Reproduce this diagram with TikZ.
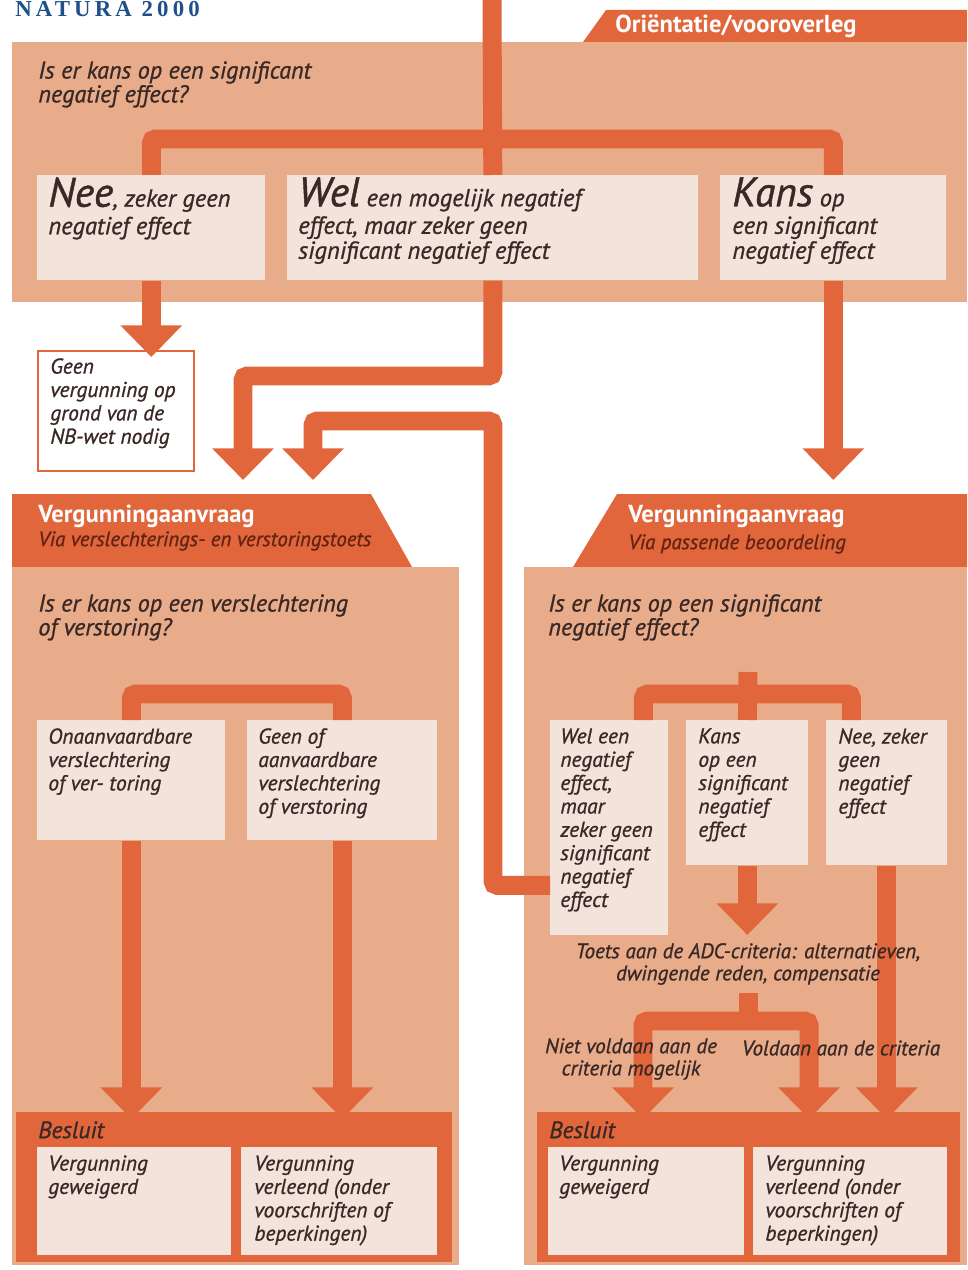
\documentclass[tikz,border=0pt]{standalone}
\usepackage{fontspec}
\setmainfont{PT Sans}
\newfontfamily\flowfont[FakeBold=1]{PT Sans}
\newfontfamily\natfont[LetterSpace=18]{Liberation Serif}
\usetikzlibrary{arrows.meta}

\definecolor{flowor}{RGB}{226,102,60}
\definecolor{panelsalm}{RGB}{233,172,138}
\definecolor{boxcream}{RGB}{243,228,219}
\definecolor{inkbrown}{RGB}{58,40,38}
\definecolor{subbrown}{RGB}{100,36,20}
\definecolor{natblue}{RGB}{30,80,140}

\tikzset{
  panel/.style={fill=panelsalm, draw=none},
  headtab/.style={fill=flowor, draw=none},
  stepbox/.style={fill=boxcream, draw=none, anchor=north west, inner sep=0pt},
  boxtext/.style={anchor=north west, inner sep=0pt, align=left, text=inkbrown,
    font=\flowfont\itshape\fontsize{12.2}{13.3}\selectfont},
  bigtext/.style={boxtext, font=\flowfont\itshape\fontsize{14}{14.2}\selectfont},
  qtext/.style={boxtext, font=\flowfont\itshape\fontsize{13.8}{13.6}\selectfont},
  headtext/.style={anchor=north west, inner sep=0pt, text=white,
    font=\bfseries\fontsize{14}{14}\selectfont},
  subtext/.style={anchor=north west, inner sep=0pt, text=subbrown,
    font=\flowfont\itshape\fontsize{11.9}{12}\selectfont},
  smalltext/.style={inner sep=2pt, align=center, text=inkbrown,
    font=\flowfont\itshape\fontsize{12}{12.6}\selectfont},
  bar/.style={draw=flowor, line width=10.8pt, rounded corners=2.5pt},
  bararrow/.style={bar, -{Triangle[width=34pt,length=18pt]}},
}
\newcommand{\bigword}[1]{{\fontsize{23.5}{24}\selectfont #1}}

\begin{document}
\begin{tikzpicture}[x=0.02cm, y=-0.02cm]
\useasboundingbox (0,0) rectangle (967,1270);
\fill[white] (0,0) rectangle (967,1270);

% heading
\node[anchor=south west, inner sep=0pt, text=natblue,
  font=\natfont\bfseries\fontsize{13}{13}\selectfont] (natura) at (15,17) {NATURA 2000};

% panels and header tabs
\fill[panel] (12,42) rectangle (967,302);
\fill[headtab] (606,10) -- (967,10) -- (967,42) -- (583,42) -- cycle;
\fill[headtab] (12,494) -- (371,494) -- (412,567) -- (12,567) -- cycle;
\fill[panel] (12,567) rectangle (459,1265);
\fill[headtab] (617,494) -- (967,494) -- (967,567) -- (573,567) -- cycle;
\fill[panel] (524,567) rectangle (967,1265);

\node[inner sep=0pt, text=white, font=\bfseries\fontsize{14}{14}\selectfont] (orient) at (736,26) {Oriëntatie/vooroverleg};
\node[headtext] (aanvrL) at (38,505) {Vergunningaanvraag};
\node[subtext] (viaL) at (38,531) {Via verslechterings- en verstoringstoets};
\node[headtext] (aanvrR) at (628,505) {Vergunningaanvraag};
\node[subtext] (viaR) at (628,534) {Via passende beoordeling};

% boxes
\node[stepbox, minimum width=4.56cm, minimum height=2.1cm] (nee) at (37,175) {};
\node[stepbox, minimum width=8.22cm, minimum height=2.1cm] (wel) at (287,175) {};
\node[stepbox, minimum width=4.52cm, minimum height=2.1cm] (kans) at (720,175) {};
\node[stepbox, fill=white, draw=flowor, line width=1.2pt, minimum width=3.12cm, minimum height=2.4cm] (geen) at (37,350) {};

\node[stepbox, minimum width=3.76cm, minimum height=2.4cm] (onaan) at (37,720) {};
\node[stepbox, minimum width=3.8cm, minimum height=2.4cm] (geenof) at (247,720) {};
\node[stepbox, minimum width=2.36cm, minimum height=4.3cm] (welR) at (550,720) {};
\node[stepbox, minimum width=2.44cm, minimum height=2.9cm] (kansR) at (686,720) {};
\node[stepbox, minimum width=2.42cm, minimum height=2.9cm] (neeR) at (826,720) {};

\node[stepbox, fill=flowor, minimum width=8.72cm, minimum height=3cm] (besl1) at (16,1112) {};
\node[stepbox, fill=flowor, minimum width=8.46cm, minimum height=3cm] (besl2) at (537,1112) {};
\node[stepbox, minimum width=3.88cm, minimum height=2.16cm] (weig1) at (37,1147) {};
\node[stepbox, minimum width=3.92cm, minimum height=2.16cm] (verl1) at (241,1147) {};
\node[stepbox, minimum width=3.92cm, minimum height=2.16cm] (weig2) at (548,1147) {};
\node[stepbox, minimum width=3.88cm, minimum height=2.16cm] (verl2) at (753,1147) {};

% texts
\node[qtext] (q1) at (38,61) {Is er kans op een significant\\negatief effect?};
\node[bigtext] at ([shift={(11,2)}]nee.north west) {\bigword{Nee}, zeker geen\\[1.5pt]negatief effect};
\node[bigtext] at ([shift={(11,2)}]wel.north west) {\bigword{Wel} een mogelijk negatief\\[1.5pt]effect, maar zeker geen\\significant negatief effect};
\node[bigtext] at ([shift={(12,2)}]kans.north west) {\bigword{Kans} op\\[1.5pt]een significant\\negatief effect};
\node[boxtext] at ([shift={(13,8)}]geen.north west) {Geen\\vergunning op\\grond van de\\NB-wet nodig};

\node[qtext] (qL) at (38,594) {Is er kans op een verslechtering\\of verstoring?};
\node[qtext] (qR) at (548,594) {Is er kans op een significant\\negatief effect?};
\node[boxtext] at ([shift={(11,8)}]onaan.north west) {Onaanvaardbare\\verslechtering\\of ver- toring};
\node[boxtext] at ([shift={(11,8)}]geenof.north west) {Geen of\\aanvaardbare\\verslechtering\\of verstoring};
\node[boxtext] at ([shift={(10,8)}]welR.north west) {Wel een\\negatief\\effect,\\maar\\zeker geen\\significant\\negatief\\effect};
\node[boxtext] at ([shift={(12,8)}]kansR.north west) {Kans\\op een\\significant\\negatief\\effect};
\node[boxtext] at ([shift={(12,8)}]neeR.north west) {Nee, zeker\\geen\\negatief\\effect};

\node[boxtext, font=\flowfont\itshape\fontsize{13.5}{14}\selectfont] at (38,1121) {Besluit};
\node[boxtext, font=\flowfont\itshape\fontsize{13.5}{14}\selectfont] at (549,1121) {Besluit};
\node[boxtext] at ([shift={(11,8)}]weig1.north west) {Vergunning\\geweigerd};
\node[boxtext] at ([shift={(13,8)}]verl1.north west) {Vergunning\\verleend (onder\\voorschriften of\\beperkingen)};
\node[boxtext] at ([shift={(11,8)}]weig2.north west) {Vergunning\\geweigerd};
\node[boxtext] at ([shift={(12,8)}]verl2.north west) {Vergunning\\verleend (onder\\voorschriften of\\beperkingen)};

% connectors
\coordinate (entry) at (492,0);
\coordinate (fork1) at (492,139);
\coordinate (turnA) at (243,376);
\coordinate (tipA) at (243,480);
\coordinate (turnB) at (493,421);
\coordinate (tipB) at (313,480);
\coordinate (forkL) at (236,694);
\coordinate (entryR) at (748,672);
\coordinate (forkR) at (748,694);
\coordinate (forkD) at (748,1021);
\coordinate (adcOut) at (748,993);

\draw[bar] (entry) -- (wel.north);
\draw[bar] (nee.north) |- (fork1) -| (kans.north);
\draw[bararrow, shorten >=-4pt] (nee.south) -- (nee.south |- geen.north);
\draw[bararrow] (wel.south) |- (turnA) -- (tipA);
\draw[bararrow] (kans.south) -- (kans.south |- tipA);
\draw[bararrow] ([yshift=-1.15cm]welR.west) -| (turnB) -| (tipB);

\draw[bar] (onaan.north) |- (forkL) -| (geenof.north);
\draw[bararrow, shorten >=-4pt] (onaan.south) -- (onaan.south |- besl1.north);
\draw[bararrow, shorten >=-4pt] (geenof.south) -- (geenof.south |- besl1.north);

\draw[bar] (entryR) -- (kansR.north);
\draw[bar] ([xshift=0.68cm]welR.north) |- (forkR) -| ([xshift=-0.71cm]neeR.north);
\draw[bararrow] (kansR.south) -- (kansR.south |- 0,935);
\draw[bar] (adcOut) -- (forkD);
\draw[bararrow, shorten >=-4pt] (forkD) -| (643,0 |- besl2.north);
\draw[bararrow, shorten >=-4pt] (forkD) -| (809,0 |- besl2.north);
\draw[bararrow, shorten >=-4pt] (neeR.south) -- (neeR.south |- besl2.north);

\node[smalltext] (adc) at (748,964) {Toets aan de ADC-criteria: alternatieven,\\dwingende reden, compensatie};
\node[smalltext] (niet) at (631,1059) {Niet voldaan aan de\\criteria mogelijk};
\node[smalltext] (vold) at (841,1048) {Voldaan aan de criteria};
\end{tikzpicture}
\end{document}
